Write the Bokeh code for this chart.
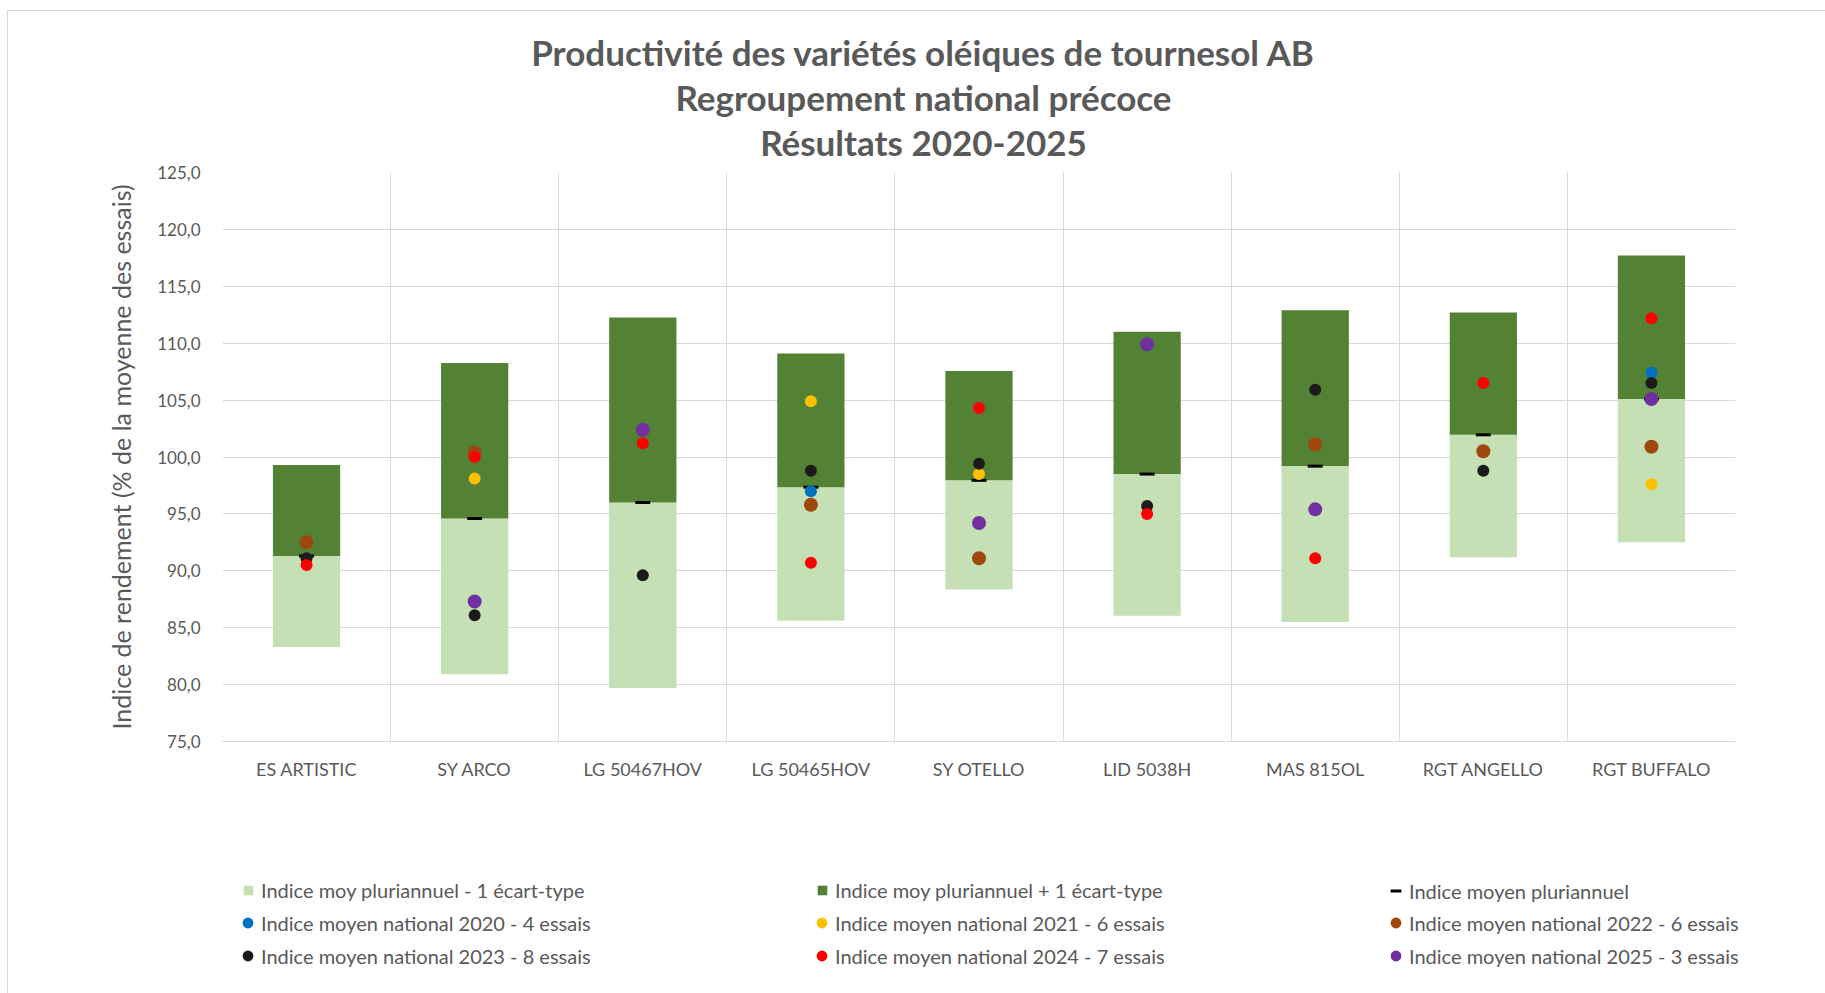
import math
from bokeh.plotting import figure
from bokeh.layouts import column
from bokeh.models import Range1d, FixedTicker, Label, Legend, LegendItem, ColumnDataSource
from bokeh.embed import file_html
from bokeh.resources import INLINE

nan = float("nan")

varieties = ["ES ARTISTIC", "SY ARCO", "LG 50467HOV", "LG 50465HOV", "SY OTELLO",
             "LID 5038H", "MAS 815OL", "RGT ANGELLO", "RGT BUFFALO"]
mean_pluri = [91.3, 94.6, 96.0, 97.35, 97.95, 98.5, 99.2, 101.95, 105.1]
lower_sd = [83.3, 80.9, 79.7, 85.6, 88.35, 86.05, 85.5, 91.2, 92.5]
upper_sd = [99.3, 108.25, 112.25, 109.1, 107.55, 111.0, 112.9, 112.7, 117.7]

y2020 = [nan, nan, nan, 97.0, nan, nan, nan, nan, 107.4]
y2021 = [nan, 98.1, nan, 104.9, 98.5, nan, nan, nan, 97.6]
y2022 = [92.5, 100.4, nan, 95.8, 91.1, nan, 101.1, 100.5, 100.9]
y2023 = [91.1, 86.1, 89.6, 98.8, 99.4, 95.7, 105.9, 98.8, 106.5]
y2024 = [90.5, 100.0, 101.2, 90.7, 104.3, 95.0, 91.1, 106.5, 112.2]
y2025 = [nan, 87.3, 102.4, nan, 94.2, 109.9, 95.4, nan, 105.1]

year_series = [
    ("Indice moyen national 2020 - 4 essais", y2020, "#0070C0", 12),
    ("Indice moyen national 2021 - 6 essais", y2021, "#FFC000", 12),
    ("Indice moyen national 2022 - 6 essais", y2022, "#9E480E", 14),
    ("Indice moyen national 2023 - 8 essais", y2023, "#1B1B1B", 12),
    ("Indice moyen national 2024 - 7 essais", y2024, "#FF0000", 12),
    ("Indice moyen national 2025 - 3 essais", y2025, "#7030A0", 14),
]
bar_labels = ["Indice moy pluriannuel - 1 écart-type",
              "Indice moy pluriannuel + 1 écart-type",
              "Indice moyen pluriannuel"]

title_lines = ["Productivité des variétés oléiques de tournesol AB",
               "Regroupement national précoce",
               "Résultats 2020-2025"]
y_label = "Indice de rendement (% de la moyenne des essais)"
y_ticks = list(range(75, 126, 5))

FONT = "Lato"
GREY = "#595959"
GRID = "#D9D9D9"
LIGHT = "#C5E0B4"
DARK = "#548235"
W = 1818
BL, FW, BR = 214, 1513, 91   # left border, frame width, right border

x = list(range(1, len(varieties) + 1))
src = ColumnDataSource(dict(x=x, lo=lower_sd, mid=mean_pluri, hi=upper_sd))

# ---------------- title strip ----------------
TH = 150
tt = figure(width=W, height=TH, frame_width=FW, frame_height=TH,
            min_border_left=BL, min_border_right=BR, min_border_top=0, min_border_bottom=0,
            x_range=Range1d(0, FW), y_range=Range1d(TH, 0),
            output_backend="svg", toolbar_location=None, title=None)
tt.axis.visible = False
tt.grid.visible = False
tt.outline_line_color = None
for line, yc in zip(title_lines, [40.4, 85.5, 130.0]):
    tt.add_layout(Label(x=701, y=yc, text=line, text_align="center", text_baseline="middle",
                        text_font=FONT, text_font_style="bold", text_font_size="35px",
                        text_color=GREY))

# ---------------- main chart ----------------
p = figure(width=W, height=700, frame_width=FW, frame_height=569,
           min_border_left=BL, min_border_right=BR, min_border_top=11, min_border_bottom=120,
           x_range=Range1d(0.5, len(varieties) + 0.5), y_range=Range1d(75, 125),
           output_backend="svg", toolbar_location=None, title=None)
p.outline_line_color = None
p.background_fill_color = "white"

p.vbar(x="x", width=0.4, bottom="lo", top="mid", source=src, fill_color=LIGHT, line_color=None)
p.vbar(x="x", width=0.4, bottom="mid", top="hi", source=src, fill_color=DARK, line_color=None)
p.scatter(x="x", y="mid", source=src, marker="dash", size=15, line_color="black", line_width=3)
for name, vals, col, sz in year_series:
    p.scatter(x=x, y=vals, marker="circle", size=sz, fill_color=col, line_color=None)

p.xaxis.ticker = FixedTicker(ticks=x)
p.xaxis.major_label_overrides = {i: v for i, v in zip(x, varieties)}
p.xaxis.major_tick_line_color = None
p.xaxis.minor_tick_line_color = None
p.xaxis.axis_line_color = GRID
p.xaxis.major_label_text_font = FONT
p.xaxis.major_label_text_font_size = "18px"
p.xaxis.major_label_text_color = GREY
p.xaxis.major_label_standoff = 10

p.yaxis.ticker = FixedTicker(ticks=y_ticks)
p.yaxis.major_label_overrides = {t: f"{t:.1f}".replace(".", ",") for t in y_ticks}
p.yaxis.major_tick_line_color = None
p.yaxis.minor_tick_line_color = None
p.yaxis.axis_line_color = None
p.yaxis.major_label_text_font = FONT
p.yaxis.major_label_text_font_size = "17px"
p.yaxis.major_label_text_color = GREY
p.yaxis.major_label_standoff = 16
p.yaxis.axis_label = y_label
p.yaxis.axis_label_text_font = FONT
p.yaxis.axis_label_text_font_size = "25px"
p.yaxis.axis_label_text_font_style = "normal"
p.yaxis.axis_label_text_color = GREY
p.yaxis.axis_label_standoff = 18

p.xgrid.ticker = FixedTicker(ticks=[i + 0.5 for i in range(len(varieties) + 1)])
p.xgrid.grid_line_color = GRID
p.ygrid.ticker = FixedTicker(ticks=y_ticks)
p.ygrid.grid_line_color = GRID

# ---------------- legend strip ----------------
# same data drawn again, but the ranges keep it out of view: only the legends show
lg = figure(width=W, height=133, frame_width=W, frame_height=133, min_border=0,
            x_range=Range1d(-2, -1), y_range=Range1d(-2, -1),
            output_backend="svg", toolbar_location=None, title=None)
lg.axis.visible = False
lg.grid.visible = False
lg.outline_line_color = None

g_low = lg.vbar(x="x", width=0.4, bottom="lo", top="mid", source=src, fill_color=LIGHT, line_color=None)
g_high = lg.vbar(x="x", width=0.4, bottom="mid", top="hi", source=src, fill_color=DARK, line_color=None)
g_mean = lg.scatter(x="x", y="mid", source=src, marker="dash", size=12, line_color="black", line_width=3)
g_years = [lg.scatter(x=x, y=vals, marker="circle", size=12, fill_color=col, line_color=None)
           for _, vals, col, _ in year_series]

common = dict(label_text_font=FONT, label_text_font_size="20px", label_text_color=GREY,
              label_height=20, padding=0, margin=0, spacing=6,
              border_line_color=None, background_fill_alpha=0)

leg_bars = Legend(items=[LegendItem(label=bar_labels[0], renderers=[g_low]),
                         LegendItem(label=bar_labels[1], renderers=[g_high])],
                  location=(234, 92), orientation="horizontal",
                  glyph_width=12, glyph_height=12, label_standoff=7, label_width=549, **common)
leg_mean = Legend(items=[LegendItem(label=bar_labels[2], renderers=[g_mean])],
                  location=(226 + 2 * 574, 90), orientation="horizontal",
                  glyph_width=27, glyph_height=27, label_standoff=0, label_width=541, **common)
leg_years = Legend(items=[LegendItem(label=name, renderers=[r])
                          for (name, _, _, _), r in zip(year_series, g_years)],
                   location=(226, 25), orientation="horizontal", ncols=3,
                   glyph_width=27, glyph_height=27, label_standoff=0, label_width=541, **common)
for lgd in (leg_bars, leg_mean, leg_years):
    lg.add_layout(lgd, "center")

layout = column(tt, p, lg, spacing=0,
                styles={"margin-left": "7px", "margin-top": "10px",
                        "border": "1px solid #D9D9D9"})

open("out.html", "w").write(file_html(layout, INLINE))
